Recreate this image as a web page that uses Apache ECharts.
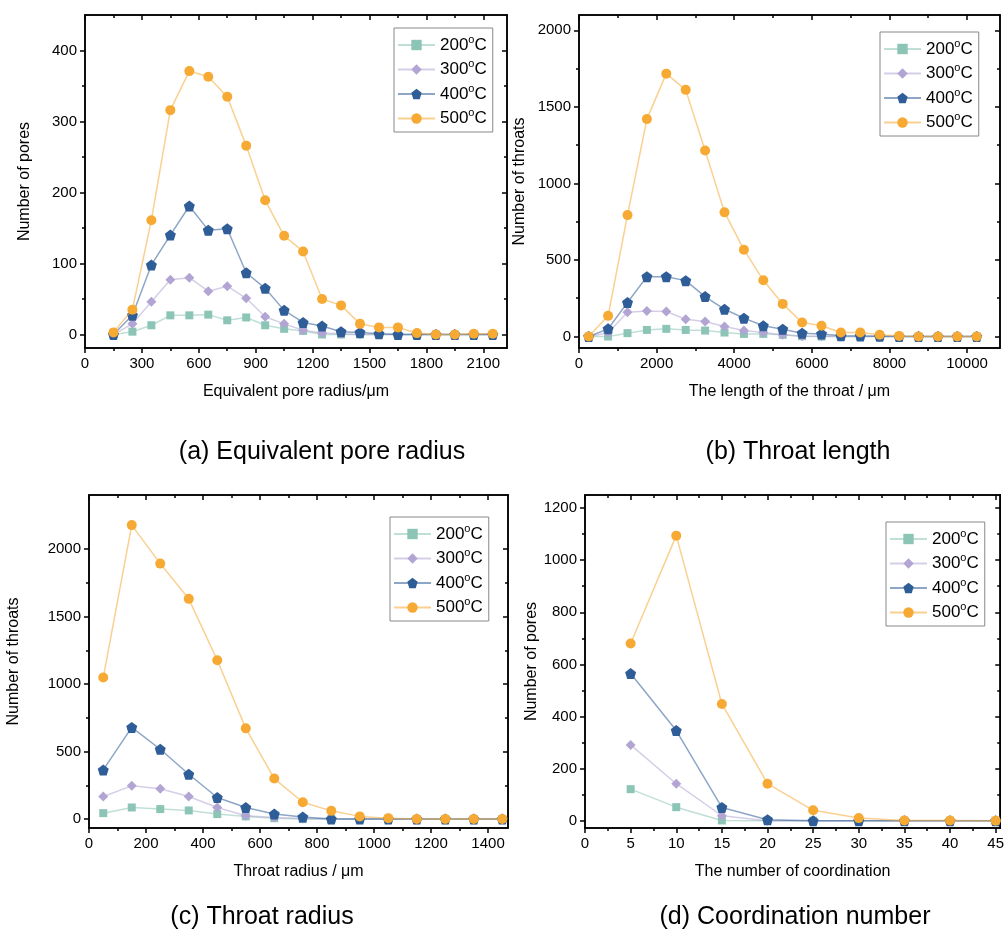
<!DOCTYPE html>
<html>
<head>
<meta charset="utf-8">
<script src="https://cdn.jsdelivr.net/npm/echarts@6/dist/echarts.min.js"></script>
<style>
html,body{margin:0;padding:0;background:#fff;}
#chart{width:1007px;height:933px;}
</style>
</head>
<body>
<div id="chart"></div>
<script>
// ---------------- DATA ----------------
const seriesNames = ['200°C', '300°C', '400°C', '500°C'];

// (a) Equivalent pore radius
const aX = [150, 250, 350, 450, 550, 650, 750, 850, 950, 1050, 1150, 1250, 1350, 1450, 1550, 1650, 1750, 1850, 1950, 2050, 2150];
const a200 = [0, 4, 13, 27, 27, 28, 20, 24, 13, 8, 5, 0, 0, 0, 0, 0, 0, 0, 0, 0, 0];
const a300 = [0, 15, 46, 77, 80, 61, 68, 51, 25, 15, 6, 2, 1, 0, 0, 0, 0, 0, 0, 0, 0];
const a400 = [0, 27, 98, 140, 181, 147, 149, 87, 65, 34, 17, 12, 4, 3, 1, 0, 0, 0, 0, 0, 0];
const a500 = [3, 35, 161, 316, 371, 363, 335, 266, 189, 139, 117, 50, 41, 15, 10, 10, 2, 0, 0, 1, 1];
const aXTicks = [0, 300, 600, 900, 1200, 1500, 1800, 2100];
const aYTicks = [0, 100, 200, 300, 400];

// (b) Throat length
const bX = [250, 750, 1250, 1750, 2250, 2750, 3250, 3750, 4250, 4750, 5250, 5750, 6250, 6750, 7250, 7750, 8250, 8750, 9250, 9750, 10250];
const b200 = [0, 0, 22, 43, 50, 43, 39, 26, 17, 17, 11, 2, 0, 0, 0, 0, 0, 0, 0, 0, 0];
const b300 = [0, 25, 159, 167, 163, 113, 98, 65, 39, 26, 11, 2, 1, 0, 0, 0, 0, 0, 0, 0, 0];
const b400 = [0, 50, 222, 391, 391, 365, 261, 178, 120, 70, 48, 22, 17, 5, 4, 2, 0, 0, 0, 0, 0];
const b500 = [0, 135, 793, 1420, 1717, 1611, 1215, 811, 567, 367, 213, 91, 70, 26, 26, 11, 4, 0, 0, 0, 0];
const bXTicks = [0, 2000, 4000, 6000, 8000, 10000];
const bYTicks = [0, 500, 1000, 1500, 2000];

// (c) Throat radius
const cX = [50, 150, 250, 350, 450, 550, 650, 750, 850, 950, 1050, 1150, 1250, 1350, 1450];
const c200 = [44, 86, 74, 64, 37, 20, 7, 0, 0, 0, 0, 0, 0, 0, 0];
const c300 = [167, 246, 224, 167, 86, 25, 12, 5, 0, 0, 0, 0, 0, 0, 0];
const c400 = [364, 679, 517, 332, 160, 86, 37, 15, 0, 0, 0, 0, 0, 0, 0];
const c500 = [1048, 2177, 1892, 1631, 1176, 672, 300, 125, 61, 20, 7, 0, 0, 0, 0];
const cXTicks = [0, 200, 400, 600, 800, 1000, 1200, 1400];
const cYTicks = [0, 500, 1000, 1500, 2000];

// (d) Coordination number
const dX = [5, 10, 15, 20, 25, 30, 35, 40, 45];
const d200 = [121, 52, 1, 0, 0, 0, 0, 0, 0];
const d300 = [291, 142, 19, 0, 0, 0, 0, 0, 0];
const d400 = [565, 346, 51, 4, 0, 0, 0, 0, 0];
const d500 = [680, 1094, 448, 142, 40, 10, 1, 1, 0];
const dXTicks = [0, 5, 10, 15, 20, 25, 30, 35, 40, 45];
const dYTicks = [0, 200, 400, 600, 800, 1000, 1200];

// ---------------- STYLE ----------------
const FONT = '"Liberation Sans", Arial, Helvetica, sans-serif';
const colors = ['#8CC5B5', '#B2A5D3', '#2F5D97', '#F6AA34'];
const symbols = ['rect', 'diamond',
  'path://M10,0 L19.51,6.91 L15.88,18.09 L4.12,18.09 L0.49,6.91 Z', 'circle'];
const symbolSizes = [8, 10, 11, 10];

const panels = [
  { grid: { left: 85, top: 15, width: 422, height: 333 }, x: aX, ys: [a200, a300, a400, a500],
    xMin: 0, xMax: 2225, yMin: -19, yMax: 450, xTicks: aXTicks, yTicks: aYTicks,
    xName: 'Equivalent pore radius/μm', yName: 'Number of pores', yGap: 52,
    legend: { left: 394, top: 28 }, sub: '(a) Equivalent pore radius', subX: 322, subY: 452 },
  { grid: { left: 579, top: 15, width: 421, height: 333 }, x: bX, ys: [b200, b300, b400, b500],
    xMin: 0, xMax: 10850, yMin: -75, yMax: 2100, xTicks: bXTicks, yTicks: bYTicks,
    xName: 'The length of the throat / μm', yName: 'Number of throats', yGap: 51,
    legend: { left: 880, top: 32 }, sub: '(b) Throat length', subX: 798, subY: 452 },
  { grid: { left: 89, top: 495, width: 419, height: 333 }, x: cX, ys: [c200, c300, c400, c500],
    xMin: 0, xMax: 1470, yMin: -66, yMax: 2400, xTicks: cXTicks, yTicks: cYTicks,
    xName: 'Throat radius / μm', yName: 'Number of throats', yGap: 67,
    legend: { left: 390, top: 517 }, sub: '(c) Throat radius', subX: 262, subY: 917 },
  { grid: { left: 585, top: 495, width: 420, height: 333 }, x: dX, ys: [d200, d300, d400, d500],
    xMin: 0, xMax: 45.5, yMin: -28, yMax: 1250, xTicks: dXTicks, yTicks: dYTicks,
    xName: 'The number of coordination', yName: 'Number of pores', yGap: 45,
    legend: { left: 886, top: 522 }, sub: '(d) Coordination number', subX: 795, subY: 917 }
];

function minorsOf(t) {
  const out = [];
  for (let i = 0; i < t.length - 1; i++) out.push((t[i] + t[i + 1]) / 2);
  return out;
}

const grids = [], xAxes = [], yAxes = [], series = [], legends = [], graphics = [];
const axisColor = '#000';

panels.forEach((p, gi) => {
  grids.push(Object.assign({ show: true, borderColor: '#000', borderWidth: 1.5, backgroundColor: 'transparent' }, p.grid));

  function axisSet(dim) {
    const isX = dim === 'x';
    const majors = isX ? p.xTicks : p.yTicks;
    const minors = minorsOf(majors);
    const min = isX ? p.xMin : p.yMin;
    const max = isX ? p.xMax : p.yMax;
    const pos = isX ? ['bottom', 'top'] : ['left', 'right'];
    const base = { type: 'value', gridIndex: gi, min: min, max: max, splitLine: { show: false } };
    const list = [];
    list.push(Object.assign({}, base, {
      position: pos[0],
      axisLine: { show: true, onZero: false, lineStyle: { color: axisColor, width: 1.5 } },
      axisTick: { show: true, inside: false, length: 5, customValues: majors, lineStyle: { color: axisColor, width: 1.5 } },
      axisLabel: { show: true, customValues: majors, margin: 8, color: '#000', fontSize: 15, fontFamily: FONT,
        formatter: function (v) { return String(v); } },
      name: isX ? p.xName : p.yName,
      nameLocation: 'middle',
      nameGap: isX ? 36 : p.yGap,
      nameTextStyle: { color: '#000', fontSize: 16, fontFamily: FONT }
    }));
    list.push(Object.assign({}, base, {
      position: pos[0],
      axisLine: { show: false, onZero: false },
      axisTick: { show: true, inside: false, length: 3, customValues: minors, lineStyle: { color: axisColor, width: 1.5 } },
      axisLabel: { show: false }
    }));
    list.push(Object.assign({}, base, {
      position: pos[1],
      axisLine: { show: true, onZero: false, lineStyle: { color: axisColor, width: 1.5 } },
      axisTick: { show: true, inside: true, length: 5, customValues: majors, lineStyle: { color: axisColor, width: 1.5 } },
      axisLabel: { show: false }
    }));
    list.push(Object.assign({}, base, {
      position: pos[1],
      axisLine: { show: false, onZero: false },
      axisTick: { show: true, inside: true, length: 3, customValues: minors, lineStyle: { color: axisColor, width: 1.5 } },
      axisLabel: { show: false }
    }));
    return list;
  }

  const xBase = xAxes.length, yBase = yAxes.length;
  axisSet('x').forEach(a => xAxes.push(a));
  axisSet('y').forEach(a => yAxes.push(a));

  p.ys.forEach((vals, si) => {
    series.push({
      type: 'line',
      name: seriesNames[si],
      xAxisIndex: xBase,
      yAxisIndex: yBase,
      data: p.x.map((xv, i) => [xv, vals[i]]),
      symbol: symbols[si],
      symbolSize: symbolSizes[si],
      showSymbol: true,
      itemStyle: { color: colors[si], opacity: 1 },
      lineStyle: { color: colors[si], width: 1.5, opacity: 0.55 },
      z: 2 + si,
      animation: false
    });
  });

  legends.push({
    orient: 'vertical',
    left: p.legend.left,
    top: p.legend.top,
    data: seriesNames,
    itemWidth: 37,
    itemHeight: 13,
    itemGap: 5,
    padding: [6, 6, 5, 3],
    borderColor: '#888',
    borderWidth: 1,
    backgroundColor: '#fff',
    selectedMode: false,
    formatter: function (name) {
      const num = name.replace('°C', '');
      return '{t|' + num + '}{s|o}{t|C}';
    },
    textStyle: {
      color: '#000',
      fontFamily: FONT,
      fontSize: 17,
      rich: {
        t: { fontSize: 17, lineHeight: 22, fontFamily: FONT, color: '#000' },
        s: { fontSize: 11, lineHeight: 10, verticalAlign: 'top', fontFamily: FONT, color: '#000' }
      }
    }
  });

  graphics.push({
    type: 'text',
    x: p.subX,
    y: p.subY,
    style: {
      text: p.sub,
      fill: '#000',
      font: '25px ' + FONT,
      textAlign: 'center',
      textVerticalAlign: 'middle'
    }
  });
});

const chart = echarts.init(document.getElementById('chart'), null, { renderer: 'canvas' });
chart.setOption({
  backgroundColor: '#fff',
  animation: false,
  textStyle: { fontFamily: FONT },
  grid: grids,
  xAxis: xAxes,
  yAxis: yAxes,
  legend: legends,
  series: series,
  graphic: graphics
});
</script>
</body>
</html>
